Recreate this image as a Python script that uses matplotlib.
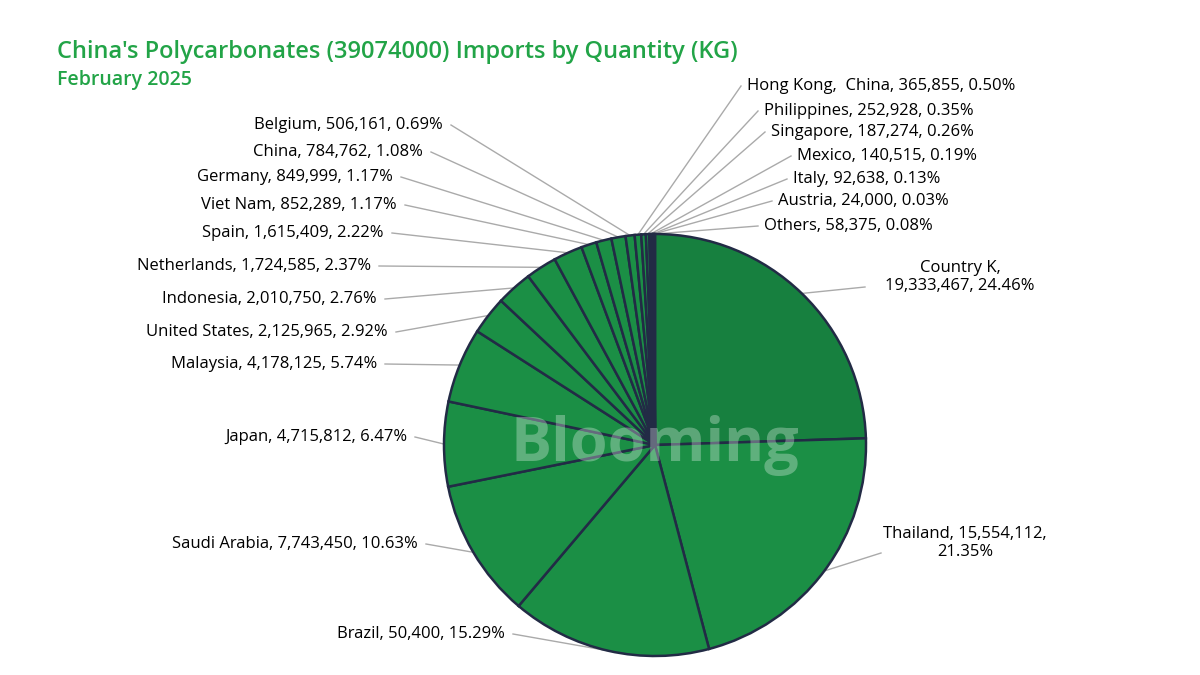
import numpy as np
import matplotlib
matplotlib.use("Agg")
import matplotlib.pyplot as plt

plt.rcParams["font.family"] = "Open Sans"

countries = ["Country K", "Thailand", "Brazil", "Saudi Arabia", "Japan", "Malaysia",
             "United States", "Indonesia", "Netherlands", "Spain", "Viet Nam", "Germany",
             "China", "Belgium", "Hong Kong,  China", "Philippines", "Singapore", "Mexico",
             "Italy", "Austria", "Others"]
quantities = ["19,333,467", "15,554,112", "50,400", "7,743,450", "4,715,812", "4,178,125",
              "2,125,965", "2,010,750", "1,724,585", "1,615,409", "852,289", "849,999",
              "784,762", "506,161", "365,855", "252,928", "187,274", "140,515",
              "92,638", "24,000", "58,375"]
shares = [24.46, 21.35, 15.29, 10.63, 6.47, 5.74, 2.92, 2.76, 2.37, 2.22, 1.17, 1.17,
          1.08, 0.69, 0.50, 0.35, 0.26, 0.19, 0.13, 0.03, 0.08]

# label anchor (pixel x, pixel y from top, alignment)
label_pos = [(905, 277, "left"), (883, 553, "left"), (505, 634, "right"),
             (418, 544, "right"), (407, 437, "right"), (377, 364, "right"),
             (388, 332, "right"), (377, 299, "right"), (371, 266, "right"),
             (384, 233, "right"), (397, 205, "right"), (393, 177, "right"),
             (423, 152, "right"), (443, 125, "right"), (747, 86, "left"),
             (764, 111, "left"), (771, 132, "left"), (797, 156, "left"),
             (793, 179, "left"), (778, 201, "left"), (764, 226, "left")]

W, H = 1200, 675
CX, CY, R = 655, H - 445, 211
green = "#1b8f45"
colors = ["#17803f"] + [green] * 19 + ["#222b45"]

fig = plt.figure(figsize=(12, 6.75), dpi=100)
ax = fig.add_axes([0, 0, 1, 1])

wedges, _ = ax.pie(shares, colors=colors, startangle=90, counterclock=False,
                   center=(CX, CY), radius=R,
                   wedgeprops=dict(edgecolor="#222b45", linewidth=1.8))
ax.set_aspect("equal")
ax.set_xlim(0, W)
ax.set_ylim(0, H)
ax.axis("off")

for w, name, q, s, (lx, ly, ha) in zip(wedges, countries, quantities, shares, label_pos):
    ang = np.deg2rad((w.theta1 + w.theta2) / 2)
    ex, ey = CX + R * np.cos(ang), CY + R * np.sin(ang)
    ly = H - ly
    if name == "Country K":
        txt = f"{name},\n{q}, {s:.2f}%"
        ax.text(lx + 55, ly, txt, ha="center", va="center", fontsize=12, linespacing=1.1)
        lx2 = lx - 40
        ly2 = ly - 10
    elif name == "Thailand":
        txt = f"{name}, {q},\n{s:.2f}%"
        ax.text(lx, ly + 10, txt, ha="left", va="center", fontsize=12, linespacing=1.1,
                multialignment="center")
        lx2 = lx - 2
        ly2 = ly
    else:
        txt = f"{name}, {q}, {s:.2f}%"
        ax.text(lx, ly, txt, ha=ha, va="center", fontsize=12)
        lx2 = lx + 8 if ha == "right" else lx - 6
        ly2 = ly
    ax.plot([lx2, ex], [ly2, ey], color="#aaaaaa", lw=1, zorder=0)

ax.text(CX, CY, "Blooming", fontsize=44, fontweight="bold", color="white", alpha=0.3,
        ha="center", va="center")

fig.text(57 / W, 1 - 52 / H, "China's Polycarbonates (39074000) Imports by Quantity (KG)",
         fontsize=17, color="#22a447", va="center", fontweight="medium")
fig.text(57 / W, 1 - 80 / H, "February 2025", fontsize=14, color="#22a447", va="center",
         fontweight="medium")

fig.savefig("out.png", dpi=100, facecolor="white")
